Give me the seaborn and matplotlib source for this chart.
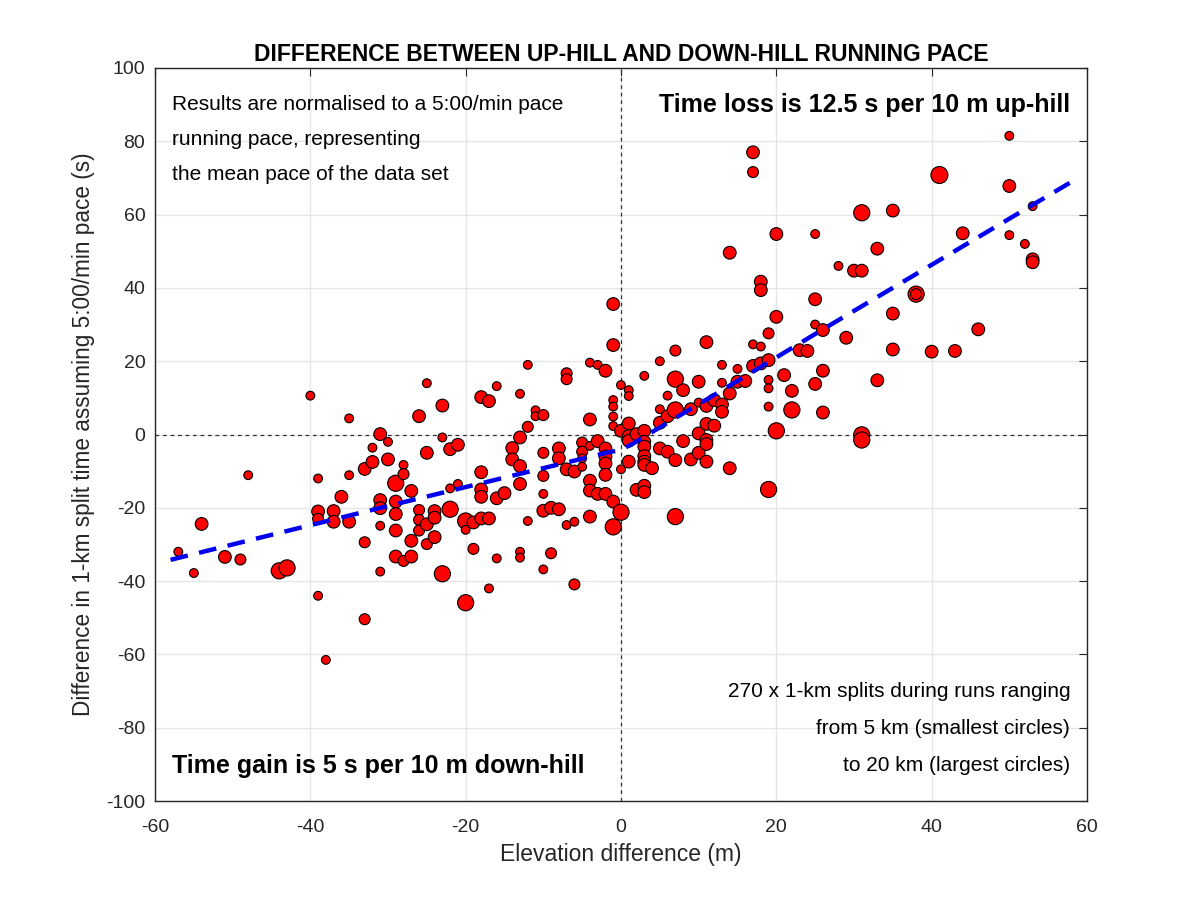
import numpy as np
import pandas as pd
import matplotlib
matplotlib.use("Agg")
import matplotlib.pyplot as plt
import seaborn as sns

# ---- data (elevation m, time diff s, run length km) ----
elev = [-57, -55, -54, -51, -49, -48, -44, -43, -40, -39, -39, -39, -39, -38, -37, -37, -36, -35, -35, -35,
        -33, -33, -33, -32, -32, -31, -31, -31, -31, -31, -30, -30,
        -29, -29, -29, -29, -29, -28, -28, -28, -27, -27, -27, -26, -26, -26, -26, -25, -25, -25, -25,
        -24, -24, -24, -23, -23, -23, -22, -22, -22, -21, -21, -20, -20, -20, -19, -19,
        -18, -18, -18, -18, -18, -17, -17, -17, -16, -16, -16, -15, -14, -14, -13, -13, -13, -13, -13, -13,
        -12, -12, -12, -11, -11, -10, -10, -10, -10, -10, -10, -9, -9, -8, -8, -8, -7, -7, -7, -7,
        -6, -6, -6, -5, -5, -5, -5, -4, -4, -4, -4, -4, -4, -3, -3, -3, -2, -2, -2, -2, -2, -2,
        -1, -1, -1, -1, -1, -1, -1, -1, 0, 0, 0, 0,
        1, 1, 1, 1, 1, 1, 2, 2, 3, 3, 3, 3, 3, 3, 3, 3, 3, 4, 5, 5, 5, 5, 6, 6, 6,
        7, 7, 7, 7, 7, 8, 8, 9, 9, 10, 10, 10, 10, 11, 11, 11, 11, 11, 11, 12, 12,
        13, 13, 13, 13, 14, 14, 14, 15, 15, 16, 17, 17, 17, 17, 18, 18, 18, 18,
        19, 19, 19, 19, 19, 19, 20, 20, 20, 21, 22, 22, 23, 24, 25, 25, 25, 25, 26, 26, 26,
        28, 29, 30, 31, 31, 31, 31, 33, 33, 35, 35, 35, 38, 38, 40, 41, 43, 44, 46,
        50, 50, 50, 52, 53, 53, 53]

tdiff = [-32, -37.8, -24.4, -33.4, -34.1, -11.1, -37.2, -36.4, 10.6, -12, -21, -23, -44, -61.5, -20.9, -23.8, -17, 4.4, -11.1, -23.8,
         -9.4, -29.4, -50.4, -3.6, -7.5, 0.1, -17.9, -20.1, -24.9, -37.4, -2, -6.8,
         -13.3, -18.3, -21.7, -26.2, -33.3, -8.3, -10.8, -34.5, -15.4, -29, -33.3, 5, -20.6, -23.3, -26.2, 14, -5, -24.5, -29.9,
         -20.9, -22.7, -28, 7.9, -0.8, -38, -4, -14.7, -20.4, -2.8, -13.5, -23.6, -26, -45.9, -24, -31.2,
         10.2, -10.3, -15, -17, -22.9, 9.1, -22.9, -42, 13.2, -17.4, -33.8, -16, -3.7, -6.8, 11.1, -0.8, -8.6, -13.5, -32, -33.6,
         19, 2.1, -23.6, 6.6, 5, 5.3, -5, -11.3, -16.2, -20.8, -36.8, -20, -32.4, -3.8, -6.5, -20.4, 16.7, 15.1, -9.5, -24.7,
         -10.1, -23.8, -40.9, -2.2, -4.7, -6.5, -8.8, 19.6, 4.1, -3.1, -12.6, -15.3, -22.4, 19, -1.8, -16.2, 17.4, -3.8, -6, -7.9, -11, -16.2,
         35.6, 24.4, 9.4, 7.6, 4.9, 2.3, -18.3, -25.2, 13.5, 1, -9.5, -21.2,
         12.1, 10.5, 3, -0.4, -1.7, -7.4, 0.1, -15.1, 16, 1, -2, -3.3, -5.9, -7.4, -8.3, -14, -15.7, -9.2, 20, 6.9, 3.2, -3.8, 10.6, 5, -4.7,
         22.9, 15.1, 6.7, -7, -22.4, 12.1, -1.8, 6.9, -6.8, 14.4, 8.7, 0.3, -5, 25.2, 7.8, 2.9, -1.5, -2.6, -7.4, 9.4, 2.4,
         19, 14.1, 8.2, 6.2, 49.6, 11.2, -9.2, 17.9, 14.4, 14.6, 77, 71.6, 24.6, 18.7, 41.7, 39.4, 24, 19.4,
         27.6, 20.3, 14.9, 12.6, 7.6, -15, 54.7, 32.1, 1, 16.2, 11.9, 6.7, 23, 22.8, 54.7, 36.9, 30, 13.8, 28.5, 17.4, 6,
         46, 26.4, 44.7, 44.7, 60.5, -0.1, -1.5, 50.7, 14.8, 61.1, 33, 23.2, 38.3, 38.3, 22.6, 70.8, 22.8, 54.9, 28.7,
         81.5, 67.8, 54.4, 52, 62.3, 47.8, 47]

run_km = [5, 5, 11, 11, 8, 5, 18, 18, 5, 5, 11, 8, 5, 5, 11, 11, 11, 5, 5, 11,
          11, 8, 8, 5, 11, 11, 11, 11, 5, 5, 5, 11,
          18, 11, 11, 11, 11, 5, 8, 8, 11, 11, 11, 11, 8, 8, 8, 5, 11, 11, 8,
          11, 11, 11, 11, 5, 18, 11, 5, 18, 11, 5, 18, 5, 18, 11, 8,
          11, 11, 11, 11, 11, 11, 11, 5, 5, 11, 5, 11, 11, 11, 5, 11, 11, 11, 5, 5,
          5, 8, 5, 5, 5, 8, 8, 8, 5, 11, 5, 11, 8, 11, 11, 11, 8, 8, 11, 5,
          11, 5, 8, 8, 8, 5, 5, 5, 11, 5, 11, 11, 11, 5, 11, 11, 11, 11, 11, 11, 11, 11,
          11, 11, 5, 5, 5, 5, 11, 18, 5, 11, 5, 18,
          5, 5, 11, 11, 11, 11, 11, 11, 5, 11, 11, 11, 11, 11, 11, 11, 11, 11, 5, 5, 11, 11, 5, 11, 11,
          8, 18, 18, 11, 18, 11, 11, 11, 11, 11, 5, 11, 11, 11, 11, 11, 11, 11, 11, 11, 11,
          5, 5, 11, 11, 11, 11, 11, 5, 11, 11, 11, 8, 5, 11, 11, 11, 5, 11,
          8, 11, 5, 5, 5, 18, 11, 11, 18, 11, 11, 18, 11, 11, 5, 11, 5, 11, 11, 11, 11,
          5, 11, 11, 11, 18, 18, 18, 11, 11, 11, 11, 11, 18, 8, 11, 20, 11, 11, 11,
          5, 11, 5, 5, 5, 11, 11]

# fitted trend line (knots)
fit_x = [-58, -30, -1.5, 0, 1.6, 3.7, 12, 26, 59]
fit_y = [-34.2, -19.5, -4.8, -4.2, -2.4, 0.3, 10.8, 28.7, 70.2]

x_ticks = [-60, -40, -20, 0, 20, 40, 60]
y_ticks = [-100, -80, -60, -40, -20, 0, 20, 40, 60, 80, 100]

df = pd.DataFrame({"elev": elev, "tdiff": tdiff, "km": run_km})
fit = pd.DataFrame({"x": fit_x, "y": fit_y})

sns.set_theme(style="white")
fam = ["Liberation Sans", "DejaVu Sans"]
plt.rcParams["font.family"] = fam
plt.rcParams["axes.unicode_minus"] = False

fig = plt.figure(figsize=(12, 9), dpi=100)
ax = fig.add_axes([155 / 1200, 99 / 900, 932 / 1200, 733 / 900])

ax.set_xlim(-60, 60)
ax.set_ylim(-100, 100)
ax.set_xticks(x_ticks)
ax.set_yticks(y_ticks)
ax.grid(True, color="#e6e6e6", linewidth=1.0)
ax.set_axisbelow(True)

ax.axvline(0, color="#333333", linestyle=(0, (3, 3)), linewidth=0.9, zorder=1)
ax.axhline(0, color="#333333", linestyle=(0, (3, 3)), linewidth=0.9, zorder=1)

sns.scatterplot(data=df, x="elev", y="tdiff", size="km", sizes=(40, 150), size_norm=(5, 20),
                color="#ff0000", edgecolor="black", linewidth=0.8, legend=False, ax=ax, zorder=3)

sns.lineplot(data=fit, x="x", y="y", color="#0000ee", linewidth=3.2, linestyle=(0, (4, 2.6)),
             ax=ax, zorder=4, sort=False)

for s in ax.spines.values():
    s.set_color("#262626")
    s.set_linewidth(1.0)
ax.tick_params(direction="in", length=6, width=0.8, color="#262626", labelsize=14,
               labelcolor="#262626", top=True, right=True)
ax.tick_params(axis="x", pad=13)
ax.tick_params(axis="y", pad=7)

ax.set_xlabel("Elevation difference (m)", fontsize=16.5, color="#262626", labelpad=5)
ax.set_ylabel("Difference in 1-km split time assuming 5:00/min pace (s)", fontsize=16.3,
              color="#262626", labelpad=8)
ax.set_title("DIFFERENCE BETWEEN UP-HILL AND DOWN-HILL RUNNING PACE", fontsize=16.5, fontweight="bold",
             color="black", pad=5)

tl = ax.transAxes
for i, line in enumerate(["Results are normalised to a 5:00/min pace",
                          "running pace, representing",
                          "the mean pace of the data set"]):
    ax.text(0.018, 0.95 - i * 0.0475, line, transform=tl, fontsize=15,
            ha="left", va="center", color="black")
ax.text(0.982, 0.95, "Time loss is 12.5 s per 10 m up-hill", transform=tl, fontsize=18,
        fontweight="bold", ha="right", va="center", color="black")
ax.text(0.018, 0.048, "Time gain is 5 s per 10 m down-hill", transform=tl, fontsize=18,
        fontweight="bold", ha="left", va="center", color="black")
for i, line in enumerate(["270 x 1-km splits during runs ranging",
                          "from 5 km (smallest circles)",
                          "to 20 km (largest circles)"]):
    ax.text(0.982, 0.149 - i * 0.0505, line, transform=tl, fontsize=15,
            ha="right", va="center", color="black")

fig.savefig("out.png", dpi=100, facecolor="white")
